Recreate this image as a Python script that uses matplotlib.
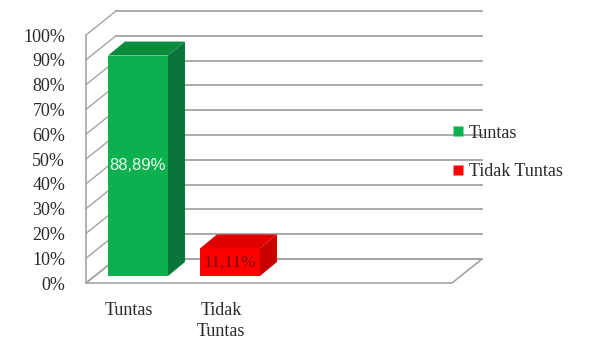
import matplotlib
matplotlib.use("Agg")
import matplotlib.pyplot as plt
from matplotlib.patches import Polygon
from matplotlib.lines import Line2D

# ---- data ----
categories = ["Tuntas", "Tidak\nTuntas"]
values = [88.89, 11.11]
value_labels = ["88,89%", "11,11%"]
yticks = [0, 10, 20, 30, 40, 50, 60, 70, 80, 90, 100]
ytick_labels = ["0%", "10%", "20%", "30%", "40%", "50%", "60%", "70%", "80%", "90%", "100%"]
legend_labels = ["Tuntas", "Tidak Tuntas"]

# ---- styles ----
front_colors = ["#0db04f", "#ff0000"]
top_colors = ["#0a8c3c", "#e00000"]
side_colors = ["#08763a", "#c80000"]
label_colors = ["#e8fff0", "#7a0000"]
grid_color = "#a4a4a4"
serif = "Liberation Serif"
fs = 13

W, H = 592, 343
fig = plt.figure(figsize=(W / 100, H / 100), dpi=100)
ax = fig.add_axes([86 / W, (H - 283) / H, 366 / W, 248 / H])
xmin, xmax = -0.467, 3.511
ax.set_xlim(xmin, xmax)
ax.set_ylim(0, 100)
pxx = (xmax - xmin) / 366.0
pxy = 100.0 / 248.0

# wall depth
wdx, wdy = 30 * pxx, 24 * pxy
# bar placement
bdx, bdy = 9 * pxx, 7 * pxy
ddx, ddy = 17 * pxx, 14 * pxy
bw = 60 * pxx

# floor
floor = Polygon([(xmin, 0), (xmax, 0), (xmax + wdx, wdy), (xmin + wdx, wdy)],
                closed=True, facecolor="white", edgecolor=grid_color, lw=1.2,
                clip_on=False, zorder=0.5)
ax.add_patch(floor)

# gridlines on back wall and left wall
for t in yticks:
    ax.plot([xmin + wdx, xmax + wdx], [t + wdy, t + wdy], color=grid_color, lw=1.3,
            clip_on=False, zorder=1)
    ax.plot([xmin, xmin + wdx], [t, t + wdy], color=grid_color, lw=1.0,
            clip_on=False, zorder=1)
ax.plot([xmin, xmin], [0, 100], color=grid_color, lw=1.2, clip_on=False, zorder=1)

# bars
pos = list(range(len(categories)))
xs = [p + bdx for p in pos]
ax.bar(xs, values, width=bw, bottom=bdy, color=front_colors, zorder=3, clip_on=False)
for i, v in enumerate(values):
    left = xs[i] - bw / 2
    right = xs[i] + bw / 2
    b = bdy
    t = bdy + v
    ax.add_patch(Polygon([(left, t), (right, t), (right + ddx, t + ddy), (left + ddx, t + ddy)],
                         closed=True, facecolor=top_colors[i], edgecolor="none",
                         zorder=3, clip_on=False))
    ax.add_patch(Polygon([(right, b), (right + ddx, b + ddy), (right + ddx, t + ddy), (right, t)],
                         closed=True, facecolor=side_colors[i], edgecolor="none",
                         zorder=3, clip_on=False))
    if i == 0:
        ax.text(xs[i], b + v / 2, value_labels[i], ha="center", va="center",
                color=label_colors[i], fontsize=12, family="Liberation Sans", zorder=4)
    else:
        ax.text(xs[i], b + v / 2, value_labels[i], ha="center", va="center",
                color=label_colors[i], fontsize=12.5, family=serif, zorder=4)

# axes
for s in ax.spines.values():
    s.set_visible(False)
ax.set_yticks(yticks)
ax.set_yticklabels(ytick_labels, family=serif, fontsize=fs, color="#2a2a2a")
ax.set_xticks(pos)
ax.set_xticklabels(categories, family=serif, fontsize=fs, color="#2a2a2a", linespacing=1.3)
ax.tick_params(axis="y", length=0, pad=15)
ax.tick_params(axis="x", length=0, pad=14)

# legend
handles = [Line2D([], [], marker="s", linestyle="none", markersize=6.5,
                  markerfacecolor=front_colors[i], markeredgecolor="none")
           for i in range(len(legend_labels))]
fig.legend(handles, legend_labels, loc="center left",
           bbox_to_anchor=(452 / W, 1 - 152.5 / H), bbox_transform=fig.transFigure,
           frameon=False, handlelength=0.7, handletextpad=0.25, labelspacing=1.2,
           borderpad=0, borderaxespad=0, prop={"family": serif, "size": fs},
           labelcolor="#2a2a2a")

fig.savefig("out.png", dpi=100)
